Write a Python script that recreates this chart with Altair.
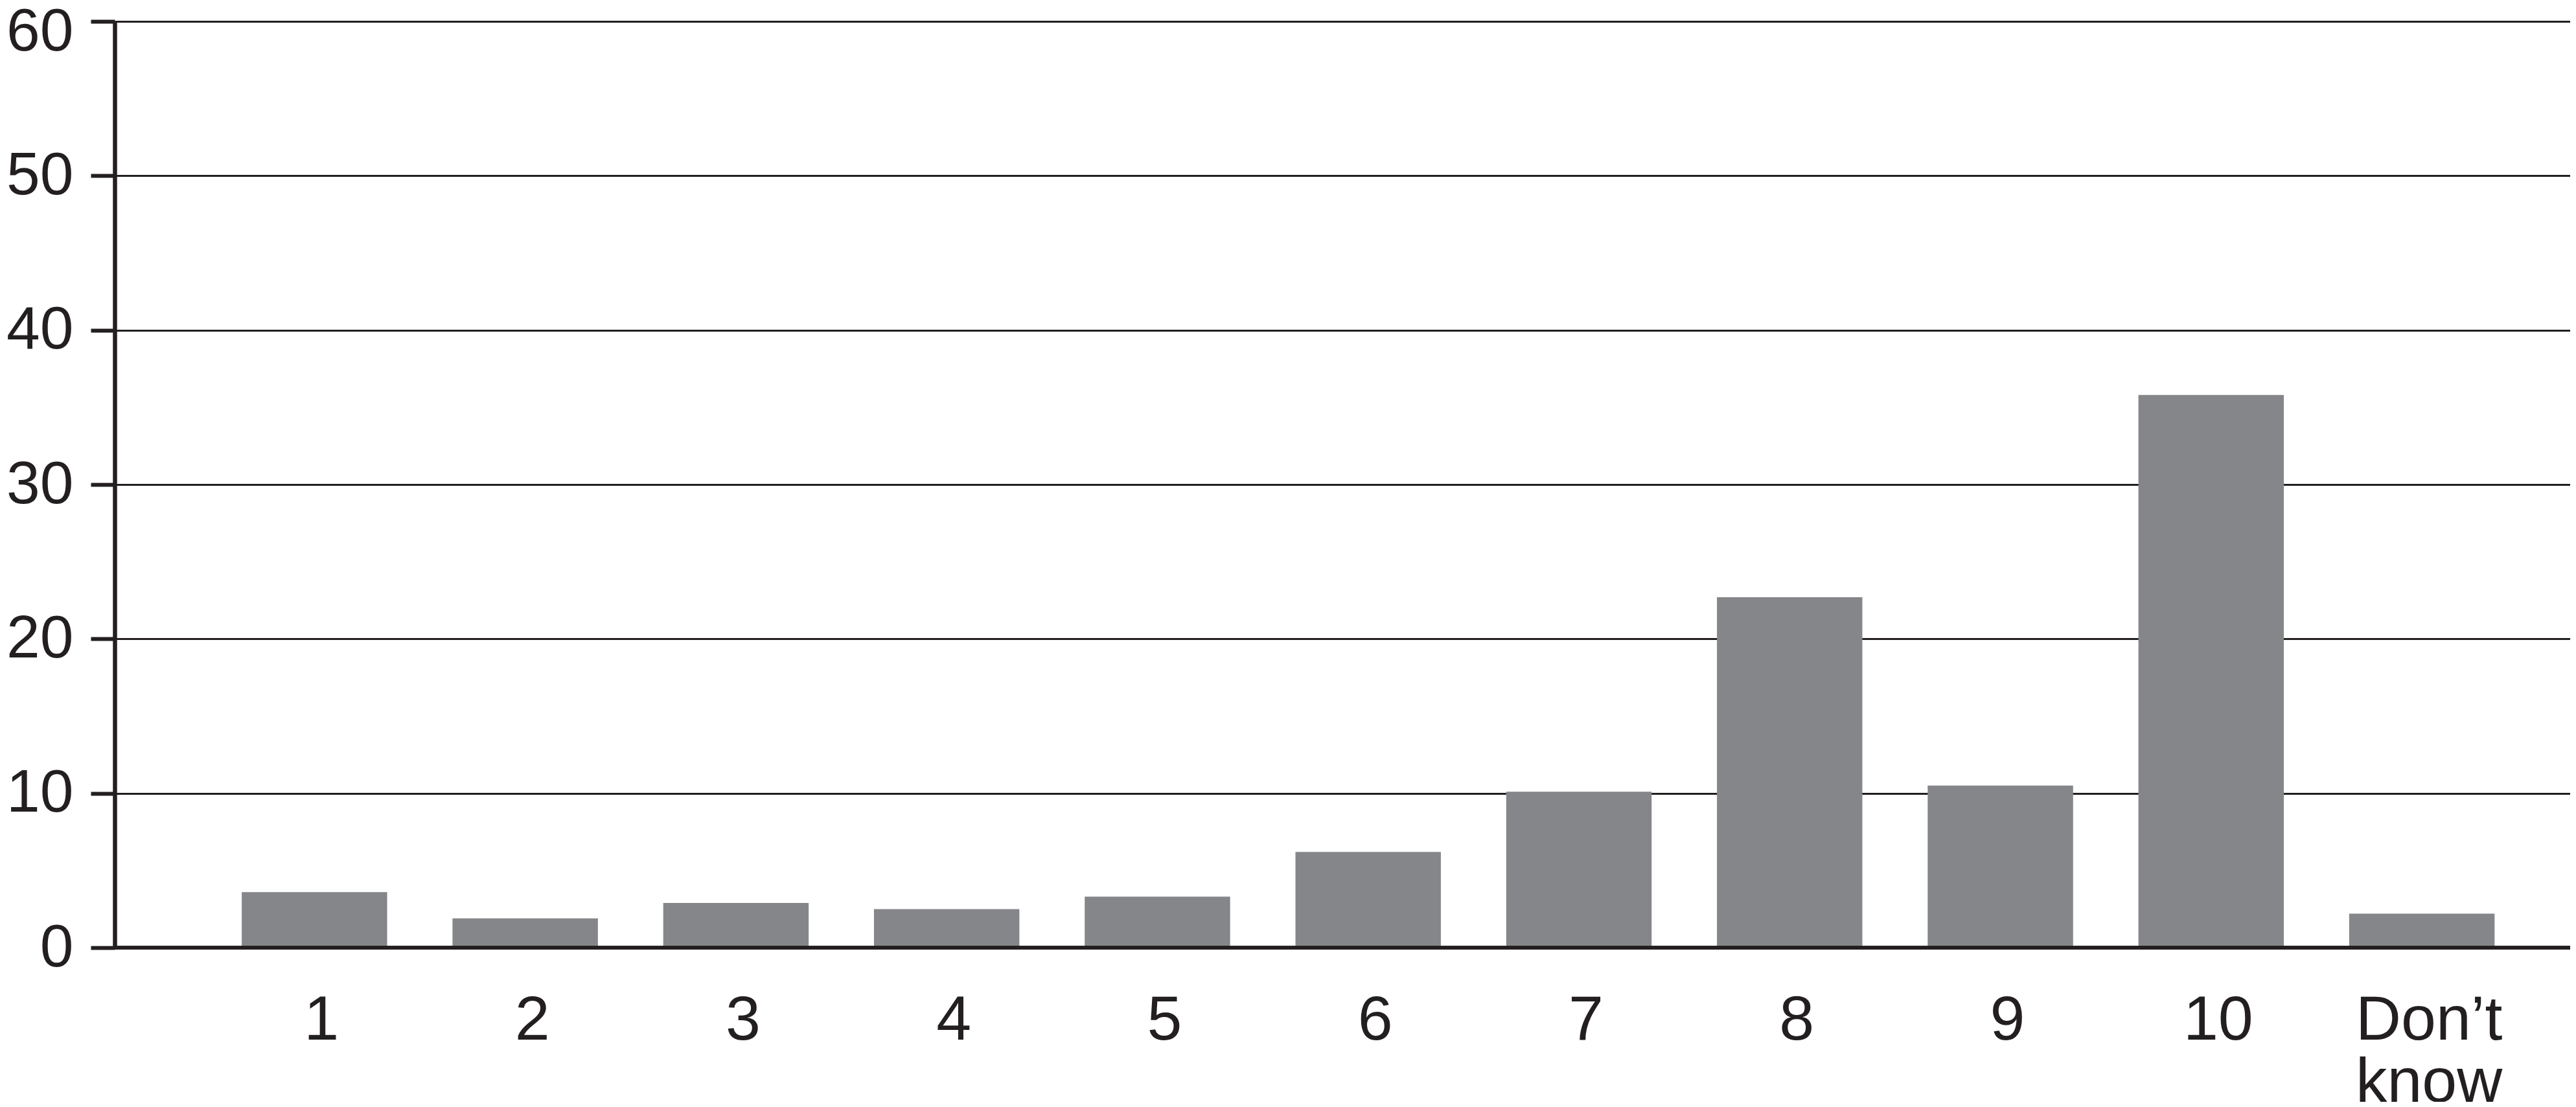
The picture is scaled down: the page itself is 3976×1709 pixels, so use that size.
import altair as alt
import pandas as pd

categories = ["1", "2", "3", "4", "5", "6", "7", "8", "9", "10", "Don’t know"]
values = [3.6, 1.9, 2.9, 2.5, 3.3, 6.2, 10.1, 22.7, 10.5, 35.8, 2.2]
y_ticks = [0, 10, 20, 30, 40, 50, 60]

df = pd.DataFrame({"cat": categories, "val": values})
zero_df = pd.DataFrame({"z": [0]})

INK = "#231f20"
BAR = "#858689"
FONT = "Liberation Sans"

W = 3790
H = 1430

y_axis = alt.Axis(
    values=y_ticks,
    grid=True,
    gridColor=INK,
    gridWidth=3,
    gridOpacity=1,
    domain=True,
    domainColor=INK,
    domainWidth=6.5,
    ticks=True,
    tickColor=INK,
    tickWidth=6,
    tickSize=37,
    labelFont=FONT,
    labelFontSize=93,
    labelColor=INK,
    labelPadding=27,
    labelBaseline="middle",
    labelOffset={"condition": {"test": "datum.value === 60", "value": 16}, "value": 0},
    title=None,
)

y_scale = alt.Scale(domain=[0, 60], nice=False)

bars = alt.Chart(df).mark_bar(color=BAR).encode(
    x=alt.X(
        "cat:N",
        sort=categories,
        scale=alt.Scale(paddingInner=0.31, paddingOuter=0.4808, align=0.627),
        axis=alt.Axis(
            domain=False,
            ticks=False,
            grid=False,
            labelAngle=0,
            labelFont=FONT,
            labelFontSize=97,
            labelColor=INK,
            labelBaseline="alphabetic",
            labelPadding=141,
            labelOffset=11,
            labelLimit=2000,
            labelLineHeight=96,
            labelExpr="datum.value == 'Don’t know' ? ['Don’t', 'know'] : datum.label",
            title=None,
        ),
    ),
    y=alt.Y("val:Q", scale=y_scale, axis=y_axis),
)

baseline = alt.Chart(zero_df).mark_rule(color=INK, strokeWidth=6).encode(
    y=alt.Y("z:Q", scale=y_scale, axis=y_axis),
)

chart = (
    alt.layer(bars, baseline)
    .properties(
        width=W,
        height=H,
        autosize=alt.AutoSizeParams(type="none"),
        padding={"left": 169, "top": 25, "right": 0, "bottom": 238},
        background="white",
    )
    .configure_view(stroke=None)
)

chart.save("out.html", embed_options={"renderer": "svg", "actions": False})
